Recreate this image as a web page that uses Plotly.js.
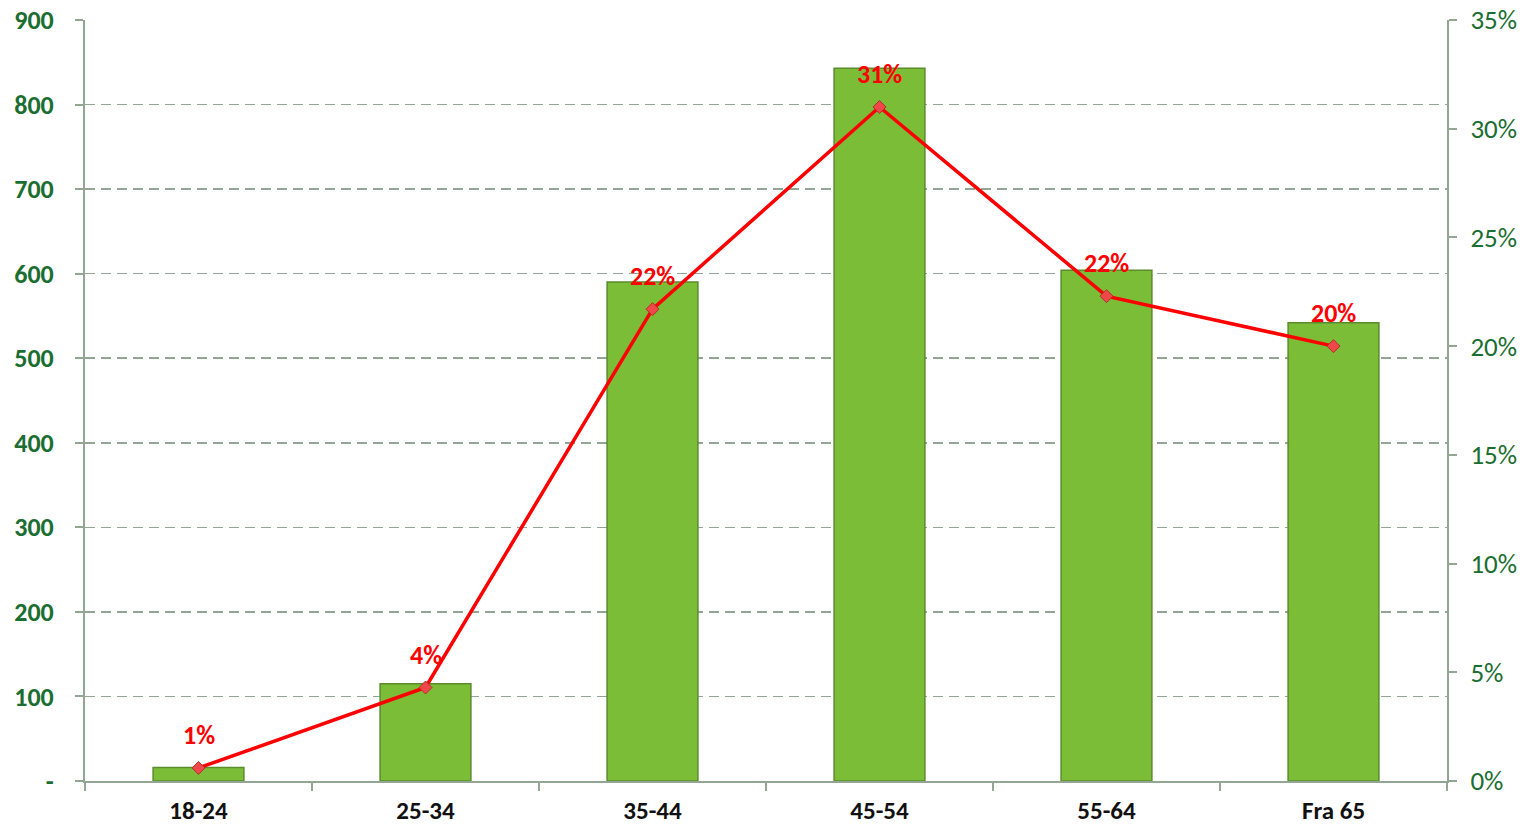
<!DOCTYPE html>
<html>
<head>
<meta charset="utf-8">
<script src="https://cdn.plot.ly/plotly-3.0.1.min.js"></script>
<style>
  html, body { margin: 0; padding: 0; background: #fff; }
  #chart { width: 1527px; height: 827px; }
</style>
</head>
<body>
<div id="chart"></div>
<script>
// Aldersfordeling: antall (søyler) og andel (linje, høyre akse)
const categories = ['18-24', '25-34', '35-44', '45-54', '55-64', 'Fra 65'];
const counts     = [16, 115, 590, 843, 604, 542];
const shares     = [0.006, 0.043, 0.217, 0.310, 0.223, 0.200];
const shareText  = ['1%', '4%', '22%', '31%', '22%', '20%'];

const leftTicks  = [0, 100, 200, 300, 400, 500, 600, 700, 800, 900];
const leftLabels = ['-', '100', '200', '300', '400', '500', '600', '700', '800', '900'];

const FONT   = 'Carlito, Lato, "Open Sans", sans-serif';
const GREEN  = '#1B6E31';
const AXIS   = '#93A693';

Plotly.newPlot('chart', [
    {
        type: 'bar', x: categories, y: counts,
        width: 0.4,
        marker: { color: '#7CBD38', line: { color: '#5A8C2C', width: 1.5 } },
        hoverinfo: 'x+y',
    },
    {
        type: 'scatter', mode: 'lines+markers',
        x: categories, y: shares, yaxis: 'y2',
        line: { color: '#FF0000', width: 3.5 },
        marker: { symbol: 'diamond', size: 10, color: '#F04848',
                  line: { color: '#B03030', width: 1 } },
        hoverinfo: 'x+y',
    },
], {
    width: 1527, height: 827,
    paper_bgcolor: '#fff', plot_bgcolor: '#fff',
    showlegend: false,
    margin: { t: 20, r: 80, b: 46, l: 85 },
    font: { family: FONT },
    xaxis: {
        type: 'category',
        showline: true, linecolor: AXIS, linewidth: 2,
        ticks: 'outside', tickson: 'boundaries', ticklen: 8, tickcolor: AXIS, tickwidth: 2,
        showgrid: false,
        tickfont: { size: 25, color: '#111', family: FONT, weight: 'bold' },
        ticklabelstandoff: 6,
    },
    yaxis: {
        range: [0, 900],
        tickvals: leftTicks, ticktext: leftLabels,
        showline: true, linecolor: AXIS, linewidth: 2,
        ticks: 'outside', ticklen: 8, tickcolor: AXIS, tickwidth: 2,
        showgrid: true, gridcolor: AXIS, griddash: '10px,6px', gridwidth: 1.5,
        zeroline: false,
        tickfont: { size: 26, color: GREEN, family: FONT, weight: 'bold' },
        ticklabelstandoff: 16,
    },
    yaxis2: {
        overlaying: 'y', side: 'right',
        range: [0, 0.35], dtick: 0.05, tickformat: '.0%',
        showline: true, linecolor: AXIS, linewidth: 2,
        ticks: 'outside', ticklen: 8, tickcolor: AXIS, tickwidth: 2,
        showgrid: false, zeroline: false,
        tickfont: { size: 27, color: GREEN, family: FONT },
        ticklabelstandoff: 8,
    },
    annotations: categories.map((c, i) => ({
        x: c, y: shares[i], xref: 'x', yref: 'y2',
        text: shareText[i], showarrow: false, yshift: 33,
        font: { size: 26, color: '#FF0000', family: FONT, weight: 'bold' },
    })),
}, { displayModeBar: false, staticPlot: true });
</script>
</body>
</html>
